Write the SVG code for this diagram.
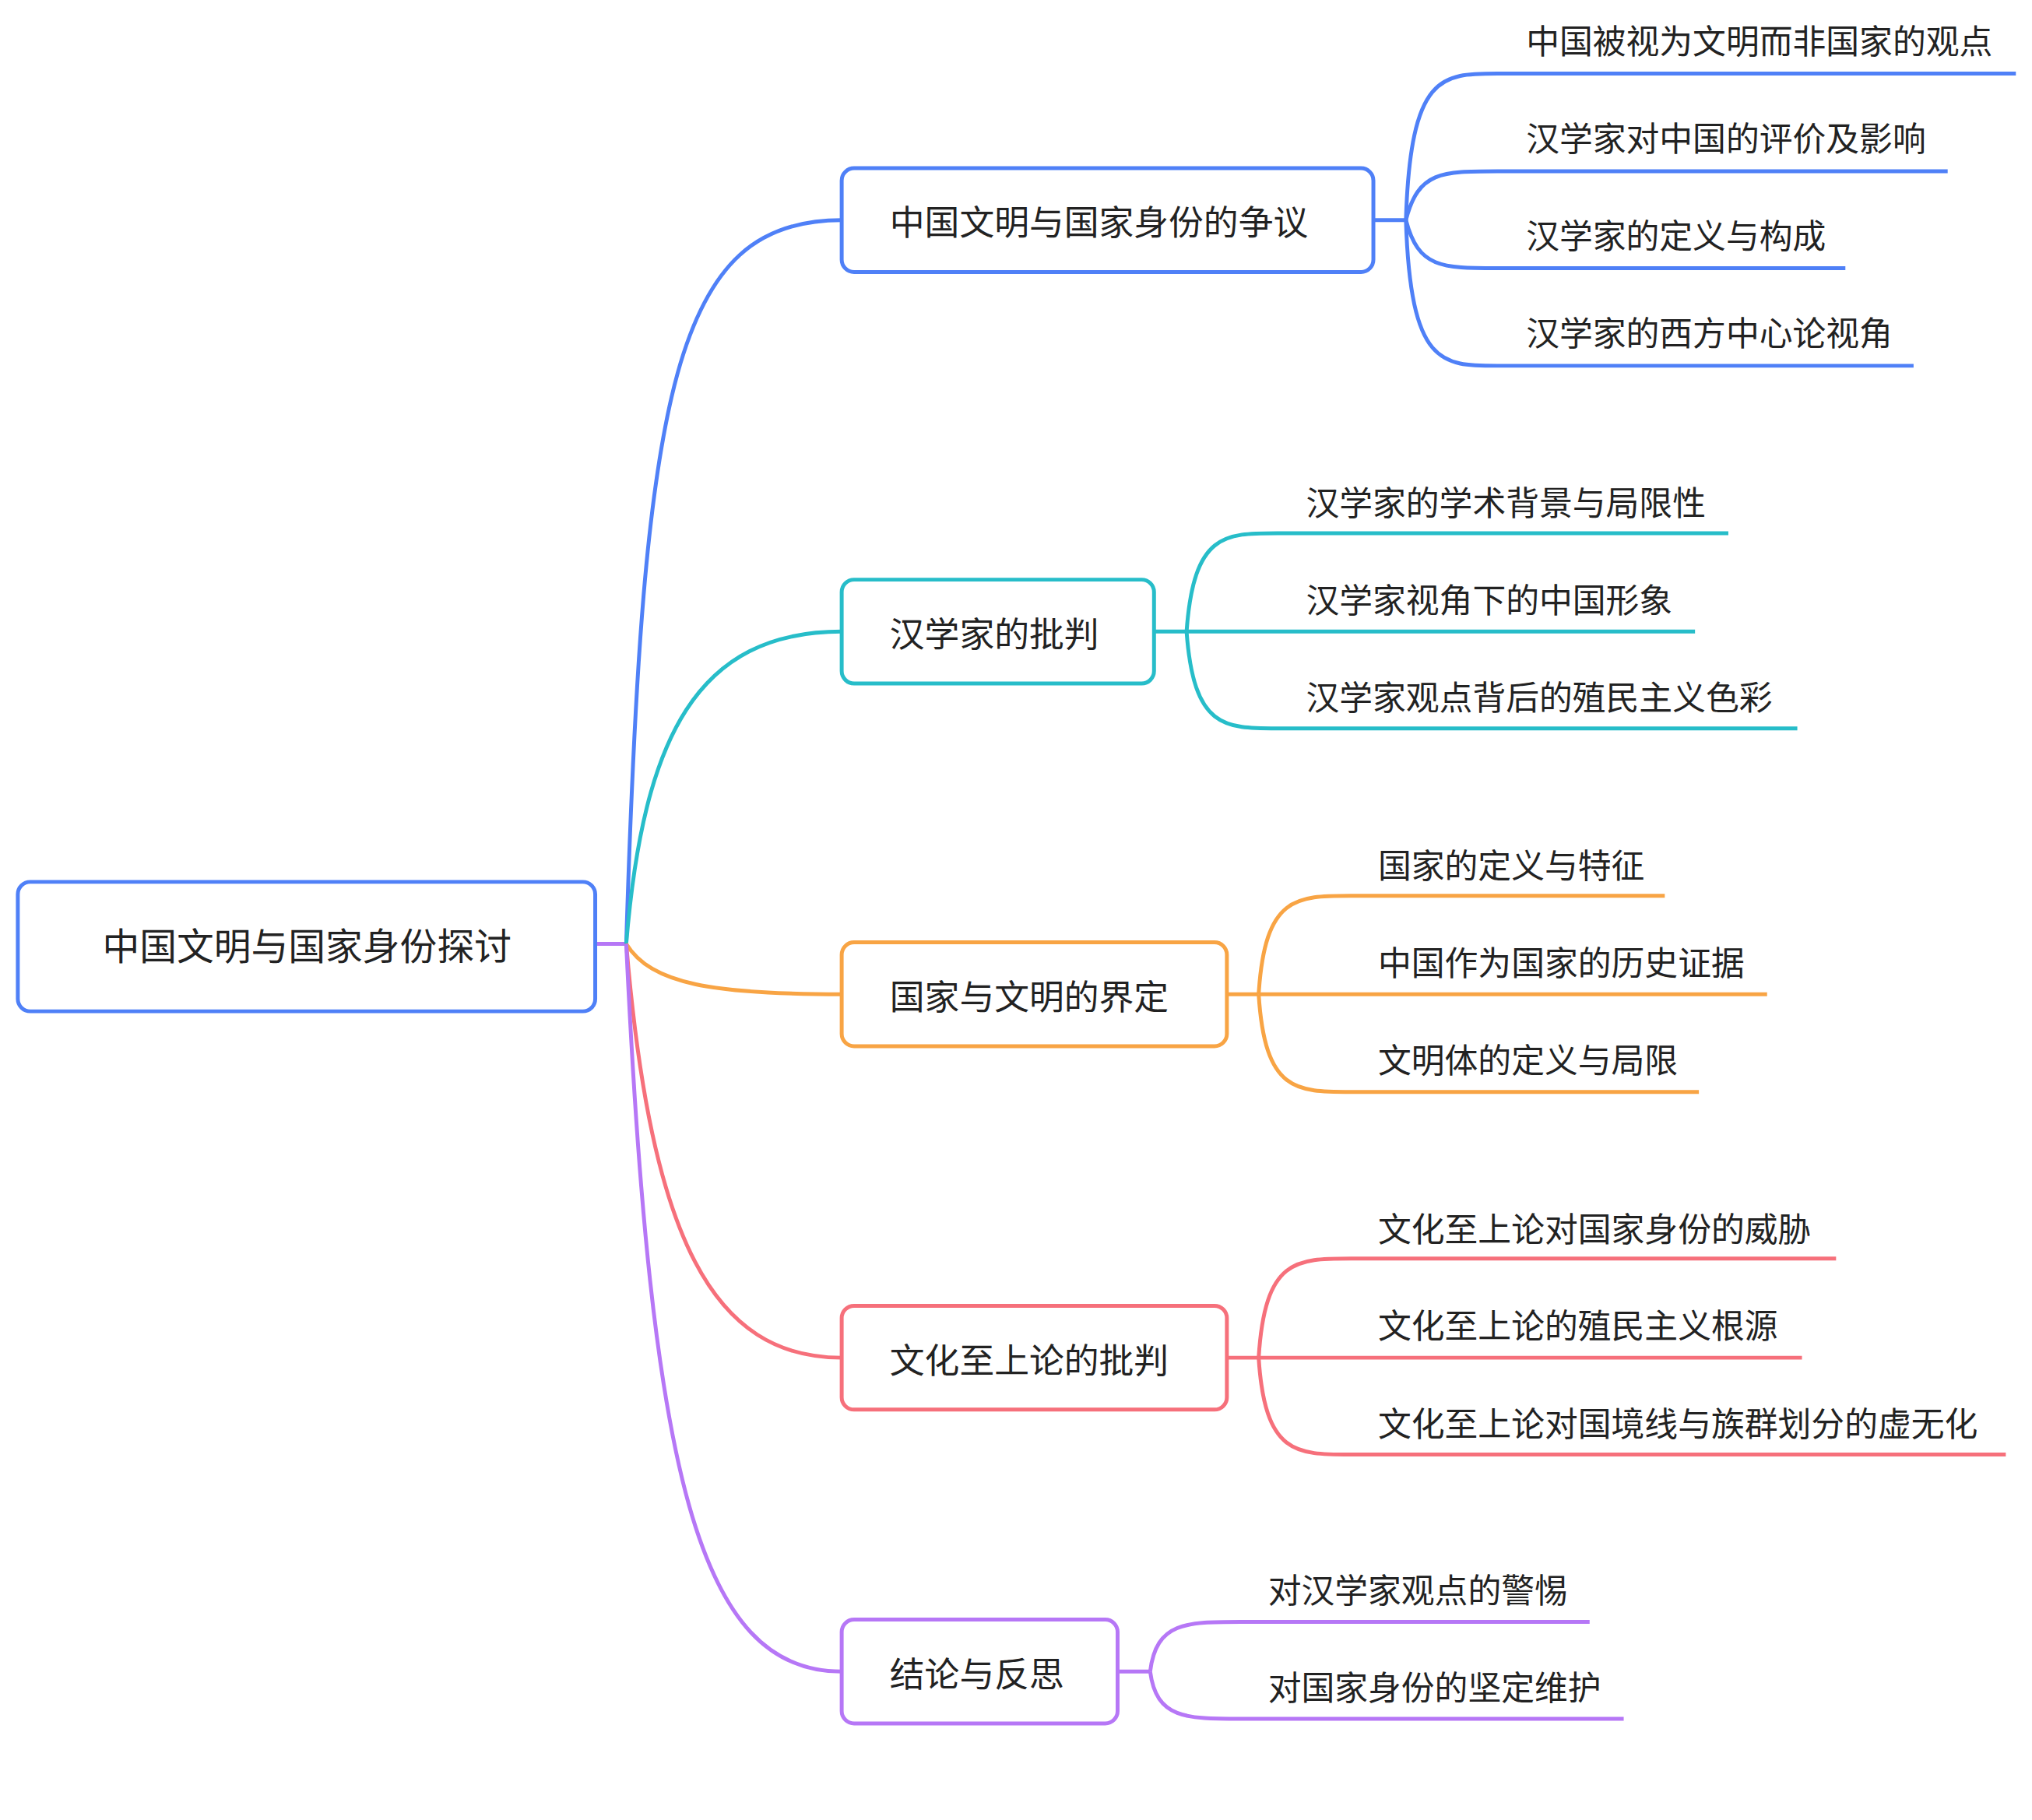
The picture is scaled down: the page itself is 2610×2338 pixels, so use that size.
<svg xmlns="http://www.w3.org/2000/svg" width="2610" height="2338" viewBox="0 0 2610 2338">
<style>
text{font-family:"Noto Sans CJK SC","Noto Sans",sans-serif;fill:#222;dominant-baseline:central}
.root{font-size:48px;text-anchor:middle}
.l1{font-size:45px}
.leaf{font-size:43px}
rect{fill:#fff;stroke-width:5}
path{fill:none;stroke-width:5}
.b{stroke:#4f80f7}.t{stroke:#27bdc9}.o{stroke:#f8a444}.r{stroke:#f6707b}.p{stroke:#b677f6}
</style>
<g transform="scale(0.9955)">
<g id="connectors">
<path class="p" d="M768 1218 L808 1218"/>
<path class="b" d="M808 1218 C830 500 870 284 1086 284"/>
<path class="t" d="M808 1218 C830 950 900 815 1086 815"/>
<path class="o" d="M808 1218 C840 1270 920 1283 1086 1283"/>
<path class="r" d="M808 1218 C840 1600 920 1752 1086 1752"/>
<path class="p" d="M808 1218 C840 1900 900 2157 1086 2157"/>
<path class="b" d="M1772 284 L1814 284"/>
<path class="b" d="M1814 284 C1820 95 1860 95 1932 95 L2601 95"/>
<path class="b" d="M1814 284 C1830 221 1860 221 1932 221 L2513 221"/>
<path class="b" d="M1814 284 C1830 346 1860 346 1932 346 L2381 346"/>
<path class="b" d="M1814 284 C1820 472 1860 472 1932 472 L2469 472"/>
<path class="t" d="M1489 815 L1531 815"/>
<path class="t" d="M1531 815 C1540 688 1580 688 1648 688 L2230 688"/>
<path class="t" d="M1531 815 L2187 815"/>
<path class="t" d="M1531 815 C1540 940 1580 940 1648 940 L2319 940"/>
<path class="o" d="M1583 1283 L1624 1283"/>
<path class="o" d="M1624 1283 C1632 1156 1672 1156 1743 1156 L2148 1156"/>
<path class="o" d="M1624 1283 L2280 1283"/>
<path class="o" d="M1624 1283 C1632 1409 1672 1409 1743 1409 L2192 1409"/>
<path class="r" d="M1583 1752 L1624 1752"/>
<path class="r" d="M1624 1752 C1632 1624 1672 1624 1743 1624 L2369 1624"/>
<path class="r" d="M1624 1752 L2325 1752"/>
<path class="r" d="M1624 1752 C1632 1877 1672 1877 1743 1877 L2588 1877"/>
<path class="p" d="M1442 2157 L1484 2157"/>
<path class="p" d="M1484 2157 C1492 2093 1530 2093 1601 2093 L2051 2093"/>
<path class="p" d="M1484 2157 C1492 2218 1530 2218 1601 2218 L2095 2218"/>
</g>
<g id="root"><rect x="23" y="1138" width="745" height="167" rx="16" class="b"/><text class="root" x="396" y="1218">中国文明与国家身份探讨</text></g>
<g id="n1"><rect x="1086" y="217" width="686" height="134" rx="16" class="b"/><text class="l1" x="1148" y="284">中国文明与国家身份的争议</text></g>
<g id="n2"><rect x="1086" y="748" width="403" height="134" rx="16" class="t"/><text class="l1" x="1148" y="815">汉学家的批判</text></g>
<g id="n3"><rect x="1086" y="1216" width="497" height="134" rx="16" class="o"/><text class="l1" x="1148" y="1283">国家与文明的界定</text></g>
<g id="n4"><rect x="1086" y="1685" width="497" height="134" rx="16" class="r"/><text class="l1" x="1148" y="1752">文化至上论的批判</text></g>
<g id="n5"><rect x="1086" y="2090" width="356" height="134" rx="16" class="p"/><text class="l1" x="1148" y="2157">结论与反思</text></g>
<g id="leaves">
<text class="leaf" x="1969" y="50">中国被视为文明而非国家的观点</text>
<text class="leaf" x="1969" y="176">汉学家对中国的评价及影响</text>
<text class="leaf" x="1969" y="301">汉学家的定义与构成</text>
<text class="leaf" x="1969" y="427">汉学家的西方中心论视角</text>
<text class="leaf" x="1685" y="646">汉学家的学术背景与局限性</text>
<text class="leaf" x="1685" y="771">汉学家视角下的中国形象</text>
<text class="leaf" x="1685" y="897">汉学家观点背后的殖民主义色彩</text>
<text class="leaf" x="1778" y="1114">国家的定义与特征</text>
<text class="leaf" x="1778" y="1240">中国作为国家的历史证据</text>
<text class="leaf" x="1778" y="1365">文明体的定义与局限</text>
<text class="leaf" x="1778" y="1583">文化至上论对国家身份的威胁</text>
<text class="leaf" x="1778" y="1708">文化至上论的殖民主义根源</text>
<text class="leaf" x="1778" y="1834">文化至上论对国境线与族群划分的虚无化</text>
<text class="leaf" x="1636" y="2049">对汉学家观点的警惕</text>
<text class="leaf" x="1636" y="2175">对国家身份的坚定维护</text>
</g>
</g>
</svg>
